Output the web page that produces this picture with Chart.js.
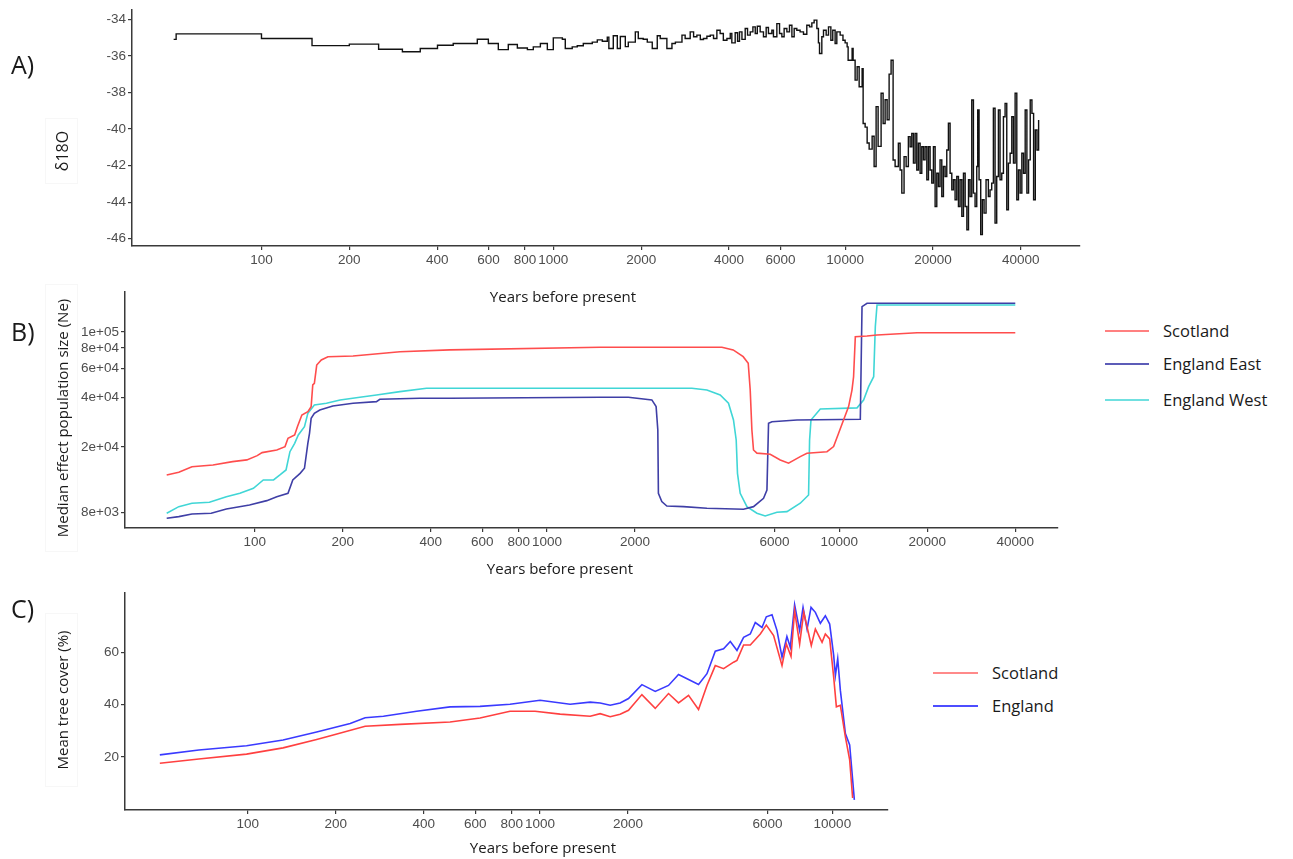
<!DOCTYPE html>
<html>
<head>
<meta charset="utf-8">
<script src="https://cdn.jsdelivr.net/npm/chart.js@4.4.1/dist/chart.umd.min.js"></script>
<style>
body { margin: 0; background: #fff; width: 1293px; height: 859px; position: relative; overflow: hidden; font-family: "Open Sans", sans-serif; color: #1a1a1a; }
canvas { position: absolute; left: 0; }
.t { position: absolute; white-space: nowrap; line-height: 1; }
.panel { font-size: 25px; left: 11px; }
.xt { font-size: 15px; transform: translateX(-50%); }
.ybox { position: absolute; border: 1px solid #f7f7f7; box-sizing: border-box; }
.ybox span { position: absolute; left: 50%; top: 50%; font-size: 15px; white-space: nowrap; transform: translate(-50%, -50%) rotate(-90deg); }
.swatch { position: absolute; height: 2px; }
.leg { font-size: 16.5px; transform: translateY(-50%); }
</style>
</head>
<body>
<canvas id="chartA" width="1090" height="270" style="top:0px"></canvas>
<canvas id="chartB" width="1070" height="280" style="top:280px"></canvas>
<canvas id="chartC" width="900" height="259" style="top:580px"></canvas>

<div class="t panel" style="top:52px">A)</div>
<div class="t panel" style="top:319px">B)</div>
<div class="t panel" style="top:596px">C)</div>

<div class="ybox" style="left:45px;top:118px;width:33px;height:66px"><span style="font-size:16px">δ18O</span></div>
<div class="ybox" style="left:45px;top:284px;width:33px;height:268px"><span>Median effect population size (Ne)</span></div>
<div class="ybox" style="left:45px;top:613px;width:33px;height:174px"><span>Mean tree cover (%)</span></div>

<div class="t xt" style="left:563px;top:289px">Years before present</div>
<div class="t xt" style="left:560px;top:561px">Years before present</div>
<div class="t xt" style="left:543px;top:840px">Years before present</div>

<div class="swatch" style="left:1105px;top:330px;width:44px;background:#ff8080"></div>
<div class="swatch" style="left:1105px;top:363px;width:44px;background:#5c5cb8"></div>
<div class="swatch" style="left:1105px;top:399px;width:44px;background:#70e0e0"></div>
<div class="t leg" style="left:1163px;top:331px">Scotland</div>
<div class="t leg" style="left:1163px;top:364px">England East</div>
<div class="t leg" style="left:1163px;top:400px">England West</div>

<div class="swatch" style="left:933px;top:672px;width:45px;background:#ff8a8a"></div>
<div class="swatch" style="left:933px;top:705px;width:45px;background:#4d4dff"></div>
<div class="t leg" style="left:992px;top:673px">Scotland</div>
<div class="t leg" style="left:992px;top:706px">England</div>

<script>
// A) d18O record (step line)
const aYears = [50, 51, 100, 149, 200, 252, 304, 350, 401, 454, 549, 599, 648, 701, 753, 815, 854, 903, 954, 1000,
    1074, 1099, 1161, 1208, 1267, 1360, 1415, 1472, 1531, 1550, 1605, 1657, 1697, 1765, 1807, 1910, 1955, 2033, 2099, 2183, 2271,
    2325, 2450, 2550, 2620, 2760, 2830, 2945, 3025, 3105, 3190, 3270, 3360, 3450, 3540, 3635, 3730, 3825, 3935, 4040, 4090,
    4200, 4280, 4345, 4430, 4545, 4630, 4730, 4830, 4920, 5000, 5115, 5250, 5363, 5460, 5610, 5680, 5835, 5960, 6070, 6180,
    6315, 6445, 6570, 6690, 6830, 7010, 7200, 7390, 7550, 7690, 7830, 8000, 8100, 8170, 8320, 8430, 8610, 8770, 8935, 9070,
    9240, 9365, 9615, 9830,
    10000, 10159, 10239, 10567, 10650, 10820, 10994, 11170, 11435, 11526, 11710, 11897, 12087, 12375, 12570, 12769, 12972,
    13282, 13494, 13709, 13927, 14149, 14372, 14601,
    14834, 15220, 15430, 15640, 15920, 16180, 16470, 16700, 16920, 17140, 17370, 17600, 17830, 18070, 18310, 18550, 18790,
    19050, 19300, 19550, 19810, 20070, 20340, 20610, 20880, 21150, 21440, 21720, 22010, 22300, 22590, 22890, 23200, 23500,
    23810, 24130, 24450, 24770, 25110, 25440, 25780, 26130, 26470, 26800, 27160, 27520, 27880, 28250, 28470, 28770, 29150,
    29530, 29930, 30400, 30960, 31370, 31790, 32210, 32640, 33070, 33510, 33950, 34410, 34870, 35330, 35800, 36270, 36760,
    37250, 37740, 38240, 38750, 39260, 39790, 40320, 40860, 41400, 41960, 42520, 43080, 43660, 44240, 44830, 45430, 46030];
const aD18O = [-35.1, -34.8, -35.05, -35.44, -35.36, -35.64, -35.78, -35.6, -35.42, -35.33, -35.09, -35.33, -35.66, -35.38,
    -35.57, -35.66, -35.51, -35.33, -35.66, -35.02, -35.09, -35.6, -35.51, -35.45, -35.33, -35.25, -35.13, -35.2, -34.98,
    -35.6, -34.9, -35.6, -34.94, -35.5, -35.25, -34.69, -35.05, -35.09, -35.25, -35.6, -34.9,
    -35.05, -35.6, -35.33, -35.25, -34.87, -35.05, -34.69, -34.96, -34.87, -35.11, -35.05, -34.93, -34.87, -35.05, -34.6,
    -34.78, -35.15, -35.05, -34.78, -35.29, -34.74, -35.2, -34.69, -35.1, -34.51, -34.87, -34.69, -34.42, -34.78, -34.38,
    -34.69, -34.96, -34.45, -34.78, -34.6, -34.96, -34.24, -34.78, -34.96, -34.51, -34.69, -34.33, -34.96, -34.51, -34.6,
    -34.69, -34.82, -34.33, -34.42, -34.2, -34.05, -34.51, -35.29, -35.87, -34.96, -34.6, -34.87, -34.42, -35.15, -34.6,
    -35.33, -34.69, -34.87, -35.15,
    -35.29, -35.51, -36.24, -35.6, -36.24, -37.33, -36.6, -37.69, -36.7, -39.7, -39.9, -40.77, -41.1, -40.4, -42.05, -38.78,
    -40.95, -38.05, -39.7, -38.4, -39.5, -37.0, -36.24, -41.7,
    -42.05, -40.78, -42.24, -43.51, -41.51, -42.05, -40.42, -40.97, -40.24, -41.87, -40.24, -42.24, -40.78, -42.42, -40.97,
    -41.69, -40.97, -42.78, -40.97, -42.24, -42.96, -40.97, -44.24, -42.42, -43.15, -41.69, -43.69, -42.05, -42.6, -41.15,
    -39.69, -42.42, -43.33, -42.78, -43.87, -42.6, -44.24, -42.78, -44.78, -42.42, -44.24, -45.51, -42.78, -43.69, -38.42,
    -43.51, -44.24, -42.05, -38.96, -42.78, -45.78, -43.87, -44.6, -42.78, -43.69, -43.33, -42.96, -38.87, -45.15, -42.6,
    -38.96, -42.78, -42.42, -39.33, -38.6, -44.42, -41.87, -41.33, -39.33, -41.87, -38.05, -43.87, -42.24, -43.51, -41.33,
    -42.42, -38.96, -43.51, -41.69, -38.42, -39.15, -43.87, -40.06, -41.15, -39.51];
const aXTicks = [100, 200, 400, 600, 800, 1000, 2000, 4000, 6000, 10000, 20000, 40000];
const aYTicks = [-46, -44, -42, -40, -38, -36, -34];

// B) median Ne
const bScotYears = [50, 55, 61, 72, 84, 94, 102, 106, 119, 127, 130, 137, 140, 145, 152, 156, 158, 160, 163, 169, 178, 217,
    314, 465, 1519, 3966, 4335, 4690, 4880, 4957, 5023, 5087, 5226, 5803, 6280, 6706, 7353, 7750, 9076, 9560, 9945, 10340,
    10760, 11050, 11190, 11345, 12440, 13460, 18460, 40000];
const bScotNe = [13520, 14030, 15170, 15530, 16290, 16680, 17710, 18470, 19170, 20090, 22590, 23660, 26570, 31290, 32790,
    35170, 47640, 48750, 62960, 67570, 70770, 71460, 75840, 77800, 80700, 80700, 77800, 70770, 64550, 44360, 25340, 19170,
    18330, 18060, 16680, 15920, 17460, 18330, 18710, 20090, 24210, 29170, 35170, 44360, 53420, 93620, 94560, 95900, 99000, 99000];
const bEastYears = [50, 55, 61, 71, 80, 96, 110, 119, 130, 135, 143, 148, 152, 154, 156, 160, 167, 185, 217, 261, 268, 367,
    465, 1519, 1898, 2284, 2362, 2394, 2405, 2470, 2570, 2930, 3524, 4702, 5087, 5506, 5655, 5727, 5882, 7164, 11800, 11960,
    12440, 40000];
const bEastNe = [7370, 7540, 7830, 7910, 8400, 8880, 9430, 9970, 10460, 12600, 13820, 14840, 21040, 24210, 29860, 32030,
    33560, 35480, 36870, 37700, 38990, 39560, 39560, 40100, 40100, 38640, 35170, 25340, 10460, 9300, 8750, 8670, 8480, 8360,
    8670, 9750, 10950, 27860, 28490, 29170, 29440, 142500, 149500, 149500];
const bWestYears = [50, 55, 61, 70, 80, 89, 99, 107, 116, 122, 128, 132, 137, 141, 148, 152, 160, 176, 196, 229, 261, 314,
    387, 465, 3130, 3524, 3913, 4177, 4345, 4439, 4484, 4581, 4830, 5226, 5579, 6118, 6622, 7353, 7850, 7913, 8000, 8609,
    11500, 12110, 12600, 13110, 13280, 13460, 40000];
const bWestNe = [7907, 8670, 9094, 9220, 9970, 10460, 11210, 12600, 12600, 13510, 14490, 18720, 21040, 23650, 26570, 32030,
    35990, 36870, 38600, 40090, 41400, 43360, 45480, 45480, 45480, 44360, 41400, 36870, 29170, 22050, 13820, 10460, 8670,
    7907, 7610, 8015, 8090, 9094, 10210, 22050, 29170, 34040, 34570, 38600, 46500, 53480, 107700, 145900, 145900];
const bXTicks = [100, 200, 400, 600, 800, 1000, 2000, 6000, 10000, 20000, 40000];
const bYTicks = [8000, 20000, 40000, 60000, 80000, 100000];
const bYLabels = ['8e+03', '2e+04', '4e+04', '6e+04', '8e+04', '1e+05'];

// C) mean tree cover
const cScotYears = [50, 68, 99, 132, 172, 196, 252, 332, 492, 623, 789, 961, 1171, 1484, 1605, 1737, 1879, 2007, 2230, 2477,
    2750, 2976, 3220, 3484, 3723, 3975, 4244, 4592, 4716, 4969, 5238, 5668, 5943, 6295, 6725, 6958, 7220, 7427, 7727, 7980,
    8470, 8746, 9220, 9462, 9790, 10104, 10320, 10650, 11080, 11460, 11730];
const cScotCover = [17.6, 19.2, 21.1, 23.5, 26.7, 28.4, 31.8, 32.5, 33.4, 34.9, 37.5, 37.5, 36.4, 35.6, 36.6, 35.4, 36.4,
    37.9, 43.9, 38.6, 44.3, 40.7, 43.6, 38.2, 47.4, 55.0, 53.8, 56.3, 57.0, 62.9, 62.9, 67.1, 70.5, 66.5, 55.0, 63.3, 58.5,
    76.0, 63.3, 75.4, 62.7, 69.0, 63.9, 67.1, 65.2, 50.6, 39.2, 39.8, 27.7, 18.9, 4.3];
const cEngYears = [50, 68, 99, 132, 172, 224, 252, 291, 378, 492, 623, 789, 1000, 1267, 1484, 1605, 1737, 1879, 2007, 2230,
    2477, 2750, 2976, 3484, 3723, 3975, 4244, 4475, 4716, 4969, 5238, 5449, 5744, 5943, 6216, 6466, 6725, 6990, 7180, 7427,
    7727, 7937, 8192, 8453, 8746, 9097, 9462, 9790, 10104, 10240, 10430, 10650, 11080, 11460, 11890];
const cEngCover = [20.8, 22.7, 24.3, 26.5, 29.6, 32.8, 35.0, 35.6, 37.5, 39.2, 39.4, 40.2, 41.7, 40.2, 41.0, 40.7, 39.8, 40.7,
    42.4, 47.7, 45.1, 47.4, 51.6, 47.8, 51.9, 60.5, 61.4, 64.2, 60.8, 65.8, 67.1, 71.5, 69.6, 73.7, 74.5, 68.4, 58.2, 66.1,
    62.0, 78.3, 68.4, 77.3, 69.0, 77.3, 75.4, 71.2, 74.1, 70.9, 58.9, 51.2, 57.6, 45.5, 29.0, 24.6, 3.6];
const cXTicks = [100, 200, 400, 600, 800, 1000, 2000, 6000, 10000];
const cYTicks = [20, 40, 60];

const axisColor = '#3a3a3a';
const tickColor = '#4d4d4d';
const tickFont = { family: '"Liberation Sans", Arial, sans-serif', size: 13.5 };

function pts(xs, ys) {
    return xs.map((x, i) => ({ x: x, y: ys[i] }));
}

function fixedTicks(values) {
    return function (scale) {
        scale.ticks = values.map(v => ({ value: v }));
    };
}

function axis(type, min, max, ticks, size, horizontal, labels) {
    return {
        type: type,
        min: min,
        max: max,
        afterBuildTicks: fixedTicks(ticks),
        afterFit: function (s) {
            if (horizontal) s.height = size; else s.width = size;
        },
        grid: { drawOnChartArea: false, drawTicks: true, tickLength: 4, color: axisColor, lineWidth: 1.2 },
        border: { display: true, color: axisColor, width: 1.5 },
        ticks: {
            font: tickFont,
            color: tickColor,
            padding: 2,
            maxRotation: 0,
            autoSkip: false,
            callback: function (v, i) { return labels ? labels[i] : String(v); }
        }
    };
}

function baseOptions(pad, xs, ys) {
    return {
        responsive: false,
        animation: false,
        layout: { padding: { top: pad.top, right: pad.right, left: 0, bottom: 0 } },
        plugins: { legend: { display: false }, tooltip: { enabled: false } },
        elements: { point: { radius: 0 }, line: { tension: 0 } },
        scales: { x: xs, y: ys }
    };
}

new Chart(document.getElementById('chartA'), {
    type: 'line',
    data: {
        datasets: [{
            data: pts(aYears, aD18O),
            borderColor: '#111',
            borderWidth: 1.4,
            stepped: true
        }]
    },
    options: baseOptions({ top: 10, right: 10 },
        axis('logarithmic', 36, 63800, aXTicks, 24, true),
        axis('linear', -46.4, -33.5, aYTicks, 132, false))
});

new Chart(document.getElementById('chartB'), {
    type: 'line',
    data: {
        datasets: [
            { label: 'Scotland', data: pts(bScotYears, bScotNe), borderColor: '#ff4d4d', borderWidth: 1.6 },
            { label: 'England East', data: pts(bEastYears, bEastNe), borderColor: '#3f3fa6', borderWidth: 1.6 },
            { label: 'England West', data: pts(bWestYears, bWestNe), borderColor: '#40d6d6', borderWidth: 1.6 }
        ]
    },
    options: baseOptions({ top: 12, right: 12 },
        axis('logarithmic', 36, 56000, bXTicks, 32, true),
        axis('logarithmic', 6430, 175000, bYTicks, 125, false, bYLabels))
});

new Chart(document.getElementById('chartC'), {
    type: 'line',
    data: {
        datasets: [
            { label: 'Scotland', data: pts(cScotYears, cScotCover), borderColor: '#ff4040', borderWidth: 1.6 },
            { label: 'England', data: pts(cEngYears, cEngCover), borderColor: '#3a3aff', borderWidth: 1.6 }
        ]
    },
    options: baseOptions({ top: 13, right: 12 },
        axis('logarithmic', 38, 15500, cXTicks, 29, true),
        axis('linear', -0.3, 82.8, cYTicks, 125, false))
});
</script>
</body>
</html>
